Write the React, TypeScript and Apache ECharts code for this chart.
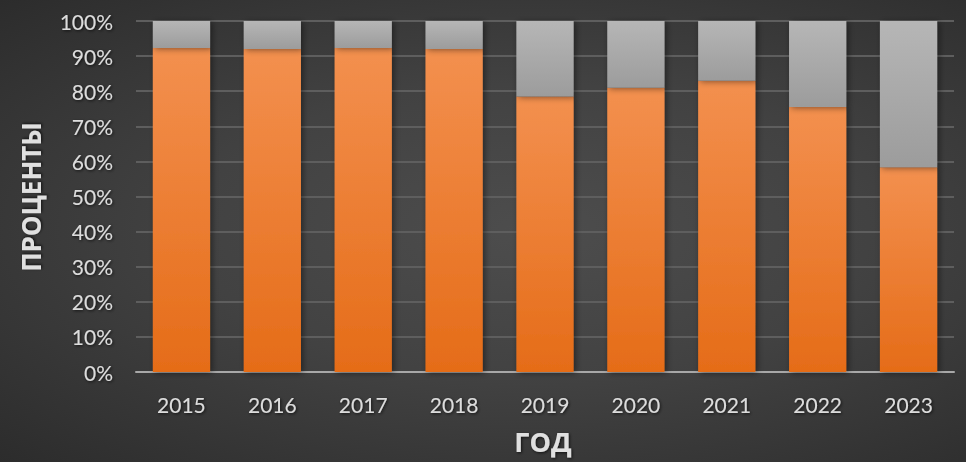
import React, { useEffect, useRef } from "react";
import * as echarts from "echarts";

const years = ["2015", "2016", "2017", "2018", "2019", "2020", "2021", "2022", "2023"];
const mainShare = [92.3, 92, 92.3, 92, 78.5, 81, 83, 75.5, 58.3];
const restShare = [7.7, 8, 7.7, 8, 21.5, 19, 17, 24.5, 41.7];
const yAxisTitle = "ПРОЦЕНТЫ";
const xAxisTitle = "ГОД";

export default function App() {
  const ref = useRef<HTMLDivElement>(null);
  useEffect(() => {
    if (!ref.current) return;
    const chart = echarts.init(ref.current, null, { renderer: "svg" });
    const tickFont = "Lato, 'Open Sans', 'Noto Sans', sans-serif";
    const titleFont = "'Open Sans', 'Noto Sans', sans-serif";
    const textShadow = {
      textShadowColor: "rgba(0,0,0,0.7)",
      textShadowBlur: 3,
      textShadowOffsetX: 1,
      textShadowOffsetY: 1,
    };
    chart.setOption({
      animation: false,
      grid: { left: 136, right: 12, top: 21, bottom: 90, containLabel: false },
      xAxis: {
        type: "category",
        data: years,
        axisLine: { show: true, lineStyle: { color: "#a8a8a8", width: 2 } },
        axisTick: { show: false },
        axisLabel: {
          color: "#dcdcdc",
          fontSize: 21,
          fontFamily: tickFont,
          margin: 22,
          ...textShadow,
        },
      },
      yAxis: {
        type: "value",
        min: 0,
        max: 100,
        interval: 10,
        axisLine: { show: false },
        axisTick: { show: false },
        axisLabel: {
          color: "#dcdcdc",
          fontSize: 21,
          fontFamily: tickFont,
          margin: 23,
          formatter: "{value}%",
          ...textShadow,
        },
        splitLine: { lineStyle: { color: "#5e5e5e", width: 2 } },
      },
      series: [
        {
          type: "bar",
          stack: "total",
          data: mainShare,
          barCategoryGap: "37%",
          itemStyle: {
            color: new echarts.graphic.LinearGradient(0, 0, 0, 1, [
              { offset: 0, color: "#f3904f" },
              { offset: 1, color: "#e56c18" },
            ]),
            shadowColor: "rgba(0,0,0,0.45)",
            shadowBlur: 6,
            shadowOffsetX: 2,
            shadowOffsetY: 1,
          },
        },
        {
          type: "bar",
          stack: "total",
          data: restShare,
          itemStyle: {
            color: new echarts.graphic.LinearGradient(0, 0, 0, 1, [
              { offset: 0, color: "#b6b6b6" },
              { offset: 1, color: "#9c9c9c" },
            ]),
            shadowColor: "rgba(0,0,0,0.45)",
            shadowBlur: 6,
            shadowOffsetX: 2,
            shadowOffsetY: 1,
          },
        },
      ],
      graphic: [
        {
          type: "text",
          x: 31,
          y: 197,
          rotation: Math.PI / 2,
          style: {
            text: yAxisTitle,
            fill: "#e0e0e0",
            font: `bold 26px ${titleFont}`,
            align: "center",
            verticalAlign: "middle",
            textShadowColor: "rgba(0,0,0,0.7)",
            textShadowBlur: 3,
            textShadowOffsetX: 1,
            textShadowOffsetY: 1,
          },
        },
        {
          type: "text",
          x: 543,
          y: 441,
          style: {
            text: xAxisTitle,
            fill: "#e0e0e0",
            font: `bold 27px ${titleFont}`,
            align: "center",
            verticalAlign: "middle",
            textShadowColor: "rgba(0,0,0,0.7)",
            textShadowBlur: 3,
            textShadowOffsetX: 1,
            textShadowOffsetY: 1,
          },
        },
      ],
    });
    return () => chart.dispose();
  }, []);
  return (
    <div
      ref={ref}
      style={{
        position: "absolute",
        left: 0,
        top: 0,
        width: 966,
        height: 462,
        background:
          "radial-gradient(ellipse at 55% 50%, #4d4d4d 0%, #424242 45%, #2c2c2c 100%)",
      }}
    />
  );
}
